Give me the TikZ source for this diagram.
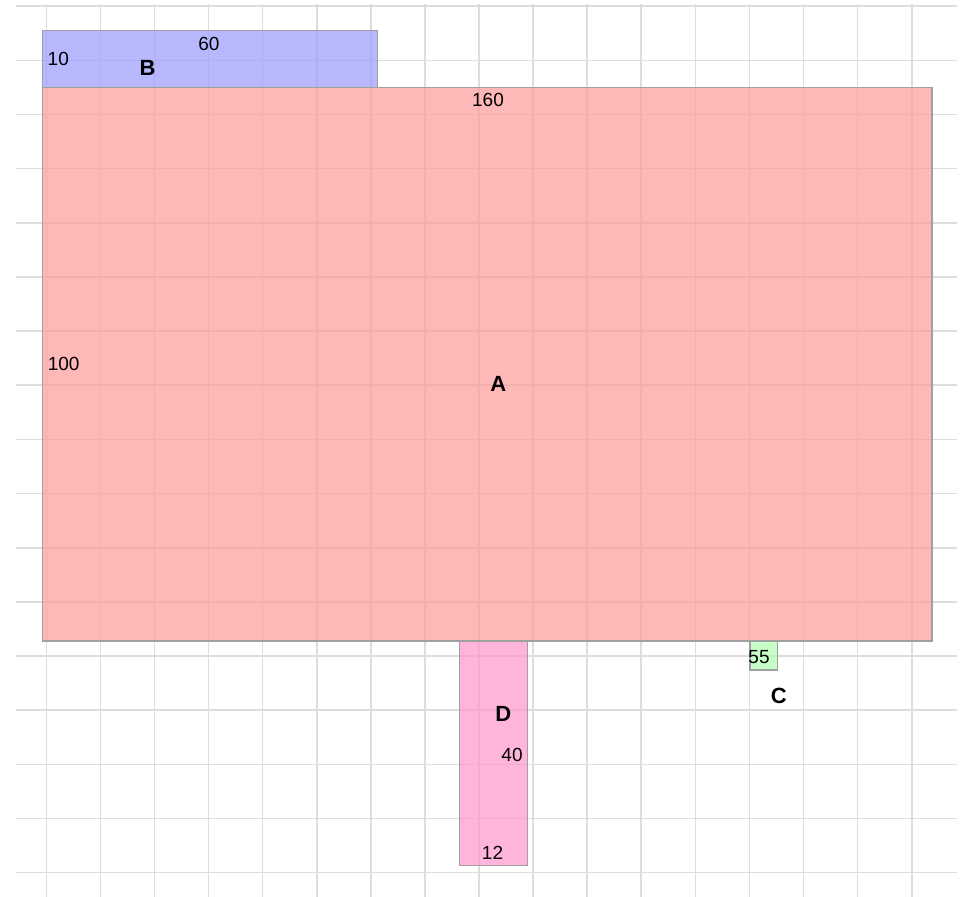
\documentclass[tikz,border=0pt]{standalone}
\usepackage{fontspec}
\setmainfont{Liberation Sans}
\begin{document}
\begin{tikzpicture}[x=1pt,y=-1pt]
\definecolor{gridc}{RGB}{221,221,221}
\definecolor{edgec}{RGB}{160,160,160}
\definecolor{fillA}{RGB}{255,155,155}
\definecolor{fillB}{RGB}{155,155,255}
\definecolor{fillC}{RGB}{178,255,178}
\definecolor{fillD}{RGB}{255,150,205}
\tikzset{
  gridline/.style={draw=gridc,line width=1.6pt},
  area/.style={draw=edgec,line width=1.4pt,fill opacity=0.7,draw opacity=1},
  num/.style={anchor=base,inner sep=0pt,font=\fontsize{19}{19}\selectfont},
  letter/.style={anchor=base,inner sep=0pt,font=\fontsize{22}{22}\selectfont\bfseries}
}
\useasboundingbox[fill=white] (0,0) rectangle (964,897);
% grid
\foreach \k in {0,...,16}{
  \draw[gridline] (16,{6.2+54.15*\k}) -- (957,{6.2+54.15*\k});
  \draw[gridline] ({46.3+54.09*\k},4) -- ({46.3+54.09*\k},897);
}
% areas
\draw[area,fill=fillB] (42.7,30.7) rectangle (377.7,87.3);
\draw[area,fill=fillA] (42.7,87.3) rectangle (932,641);
\draw[area,fill=fillD] (459.3,641) rectangle (527.3,865.7);
\draw[area,fill=fillC] (750,641) rectangle (777.3,670);
% labels
\node[num] (b10) at (58.3,65.3) {10};
\node[letter] (bB) at (147.5,75) {B};
\node[num] (b60) at (209,50.7) {60};
\node[num] (a160) at (488,106.7) {160};
\node[num] (a100) at (63.7,370.7) {100};
\node[letter] (aA) at (498.3,391.7) {A};
\node[num] (c55) at (759,663.3) {55};
\node[letter] (cC) at (778.7,703) {C};
\node[letter] (dD) at (503.3,721.7) {D};
\node[num] (d40) at (512,761.7) {40};
\node[num] (d12) at (492.5,859.3) {12};
\end{tikzpicture}
\end{document}
